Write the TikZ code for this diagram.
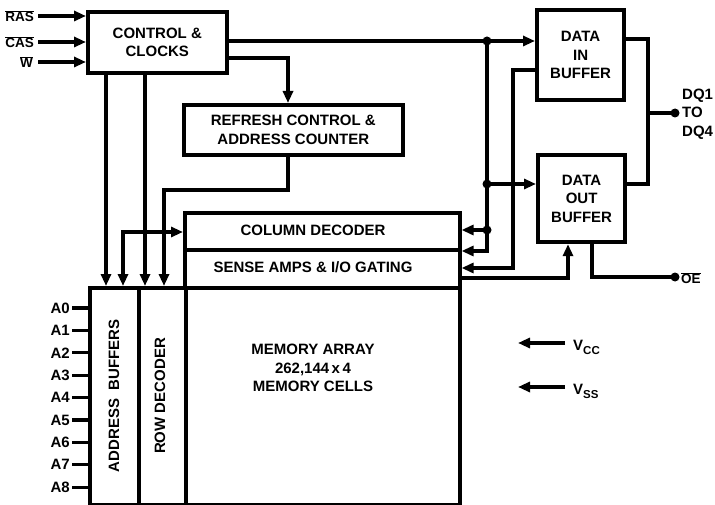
\documentclass[tikz,border=0pt]{standalone}
\usepackage{fontspec}
\setmainfont{Liberation Sans}
\usetikzlibrary{arrows.meta}
\begin{document}
\begin{tikzpicture}[x=1pt,y=-1pt,
  box/.style={draw,line width=3.6pt,inner sep=0pt,anchor=north west},
  wire/.style={line width=3.2pt},
  arr/.style={wire,-{Triangle[length=12pt,width=10pt]}},
  darr/.style={wire,{Triangle[length=12pt,width=10pt]}-{Triangle[length=12pt,width=10pt]}},
  lbl/.style={font=\fontsize{15}{18.5}\selectfont\bfseries,align=center,inner sep=0pt},
  sig/.style={font=\fontsize{13.5}{15}\selectfont\bfseries,inner sep=0pt},
  dot/.style={circle,fill,inner sep=0pt,minimum size=9pt}]
\useasboundingbox (0,0) rectangle (715,505);

% boxes
\node[box,minimum width=139pt,minimum height=61pt] (ctrl) at (86,10) {};
\node[lbl] (ctrlt) at (ctrl.center) {CONTROL \&\\CLOCKS};
\node[box,minimum width=219pt,minimum height=50pt] (refr) at (182,103) {};
\node[lbl] (refrt) at (refr.center) {REFRESH CONTROL \&\\ADDRESS COUNTER};
\node[box,line width=4.2pt,minimum width=87pt,minimum height=90pt] (din) at (535,8) {};
\node[lbl] (dint) at (din.center) {DATA\\IN\\BUFFER};
\node[box,line width=4.2pt,minimum width=87pt,minimum height=87pt] (dout) at (536,153) {};
\node[lbl] (doutt) at (dout.center) {DATA\\OUT\\BUFFER};
\node[box,minimum width=275pt,minimum height=37pt] (coldec) at (183,211) {};
\node[lbl] (coldect) at (313,230) {COLUMN DECODER};
\node[box,minimum width=275pt,minimum height=38pt] (sense) at (183,248) {};
\node[lbl] (senset) at (313,267) {SENSE AMPS \& I/O GATING};
\node[box,minimum width=49pt,minimum height=217pt] (addr) at (88,286) {};
\node[lbl,rotate=90] (addrt) at (114,396) {ADDRESS\ \ BUFFERS};
\node[box,minimum width=47pt,minimum height=217pt] (rowdec) at (137,286) {};
\node[lbl,rotate=90] (rowdect) at (160,396) {ROW DECODER};
\node[box,minimum width=274pt,minimum height=217pt] (mem) at (184,286) {};
\node[lbl,align=center] (memt) at (313,368) {MEMORY ARRAY\\262,144\,x\,4\\MEMORY CELLS};

% control inputs
\node[sig,anchor=east] (ras) at (34,16) {$\overline{\hbox{RAS}}$};
\node[sig,anchor=east] (cas) at (34,42) {$\overline{\hbox{CAS}}$};
\node[sig,anchor=east] (w) at (33,62) {$\overline{\hbox{W}}$};
\coordinate (rasp) at (38,16);
\coordinate (casp) at (38,42);
\coordinate (wp) at (38,62);
\draw[arr] (rasp) -- (rasp -| ctrl.west);
\draw[arr] (casp) -- (casp -| ctrl.west);
\draw[arr] (wp) -- (wp -| ctrl.west);

% control to address / row
\coordinate (c1) at (106,71);
\coordinate (c2) at (145,71);
\draw[arr] (c1 |- ctrl.south) -- (c1 |- addr.north);
\draw[arr] (c2 |- ctrl.south) -- (c2 |- rowdec.north);
\coordinate (l1) at (123,232);
\draw[darr] (l1 |- addr.north) -- (l1) -- (l1 -| coldec.west);

% control to refresh
\coordinate (r1) at (288,58);
\draw[arr] (ctrl.east |- r1) -- (r1) -- (r1 |- refr.north);
\coordinate (r2) at (288,190);
\coordinate (r3) at (164,190);
\draw[arr] (r2 |- refr.south) -- (r2) -- (r3) -- (r3 |- rowdec.north);

% control to data buffers
\node[dot] (j1) at (487,41) {};
\node[dot] (j2) at (487,184) {};
\node[dot] (j3) at (487,230) {};
\coordinate (j4) at (487,251);
\draw[wire] (ctrl.east |- j1) -- (j1.center);
\draw[arr] (j1.center) -- (j1 -| din.west);
\draw[wire] (j1.center) -- (j3.center);
\draw[arr] (j2.center) -- (j2 -| dout.west);
\draw[arr] (j3.center) -- (j3 -| coldec.east);
\draw[arr] (j3.center) -- (j4) -- (j4 -| sense.east);

% data in to sense amps
\coordinate (k1) at (513,70);
\coordinate (k2) at (513,268);
\draw[arr] (din.west |- k1) -- (k1) -- (k2) -- (k2 -| sense.east);

% sense amps to data out
\coordinate (m1) at (568,278);
\draw[arr] (sense.east |- m1) -- (m1) -- (m1 |- dout.south);

% data pins
\coordinate (q1) at (648,39);
\coordinate (q2) at (648,184);
\coordinate (q3) at (648,113);
\draw[wire] (din.east |- q1) -- (q1) -- (q2) -- (q2 -| dout.east);
\node[dot] (dq) at (675,113) {};
\draw[wire] (q3) -- (dq.center);
\node[lbl,anchor=west,align=left] (dqt) at (682,114) {DQ1\\TO\\DQ4};

% OE
\coordinate (o1) at (592,277);
\node[dot] (oe) at (675,277) {};
\draw[wire] (o1 |- dout.south) -- (o1) -- (oe.center);
\node[sig,anchor=west] (oet) at (681,278) {$\overline{\hbox{OE}}$};

% address pins
\foreach \i in {0,...,8} {
  \node[lbl,anchor=east] (a\i) at (70,308+22.4*\i) {A\i};
  \draw[wire] (a\i.east) ++(2,0) -- (a\i -| addr.west);
}

% power
\node[lbl,anchor=base west] (vcc) at (573,350) {V\raisebox{-4pt}{\fontsize{11.5}{12}\selectfont CC}};
\node[lbl,anchor=base west] (vss) at (573,394) {V\raisebox{-4pt}{\fontsize{11.5}{12}\selectfont SS}};
\coordinate (vccs) at (565,343);
\coordinate (vcce) at (518,343);
\coordinate (vsss) at (565,387);
\coordinate (vsse) at (518,387);
\draw[arr] (vccs) -- (vcce);
\draw[arr] (vsss) -- (vsse);
\end{tikzpicture}
\end{document}
